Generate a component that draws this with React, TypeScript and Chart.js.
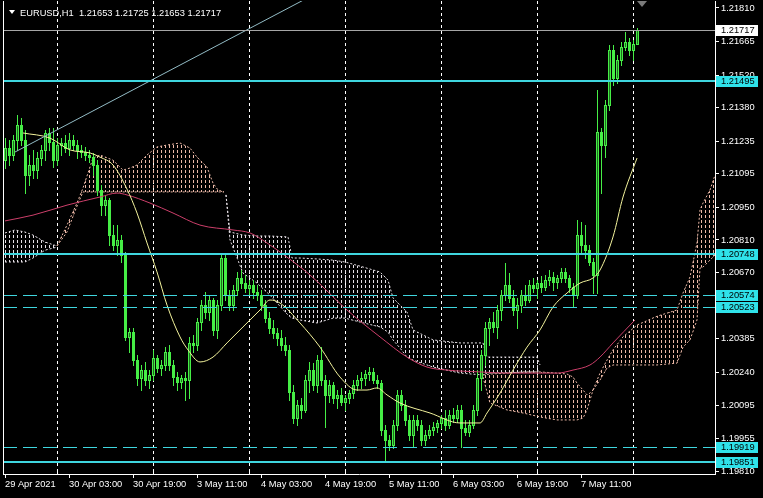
import React, { useEffect, useRef } from 'react';
import { Chart, registerables } from 'chart.js';

Chart.register(...registerables);

const symbolName = 'EURUSD,H1';

const opens = [
  1.21154,1.21206,1.21176,1.21241,1.21305,1.21241,1.21090,1.21133,1.21111,1.21163,
  1.21198,1.21271,1.21232,1.21154,1.21219,1.21228,1.21206,1.21241,1.21219,1.21198,
  1.21189,1.21176,1.21167,1.21133,1.21025,1.20960,1.20982,1.20831,1.20788,1.20810,
  1.20745,1.20392,1.20413,1.20292,1.20215,1.20249,1.20206,1.20228,1.20301,1.20258,
  1.20271,1.20327,1.20271,1.20219,1.20198,1.20215,1.20206,1.20366,1.20357,1.20456,
  1.20529,1.20499,1.20551,1.20422,1.20529,1.20732,1.20572,1.20529,1.20594,1.20646,
  1.20624,1.20603,1.20616,1.20585,1.20572,1.20529,1.20473,1.20430,1.20409,1.20388,
  1.20357,1.20336,1.20154,1.20042,1.20098,1.20077,1.20206,1.20249,1.20185,1.20292,
  1.20206,1.20142,1.20185,1.20129,1.20142,1.20111,1.20129,1.20150,1.20185,1.20206,
  1.20215,1.20232,1.20241,1.20206,1.20193,1.19991,1.19948,1.19926,1.20012,1.20142,
  1.20098,1.20034,1.19969,1.20034,1.20012,1.19948,1.19969,1.19991,1.20004,1.20021,
  1.20042,1.20012,1.20055,1.20042,1.20077,1.19999,1.19982,1.20012,1.20077,1.20215,
  1.20314,1.20430,1.20456,1.20435,1.20508,1.20572,1.20616,1.20560,1.20508,1.20529,
  1.20572,1.20551,1.20616,1.20603,1.20624,1.20607,1.20637,1.20650,1.20629,1.20646,
  1.20672,1.20646,1.20607,1.20572,1.20831,1.20788,1.20766,1.20715,1.20659,1.21275,
  1.21219,1.21391,1.21629,1.21508,1.21585,1.21642,1.21663,1.21629,1.21653,
];
const highs = [
  1.21250,1.21241,1.21262,1.21348,1.21335,1.21284,1.21176,1.21198,1.21189,1.21219,
  1.21284,1.21292,1.21292,1.21250,1.21250,1.21262,1.21271,1.21262,1.21241,1.21219,
  1.21211,1.21198,1.21185,1.21154,1.21047,1.21004,1.20991,1.20874,1.20874,1.20831,
  1.20758,1.20430,1.20430,1.20314,1.20271,1.20284,1.20249,1.20336,1.20314,1.20292,
  1.20348,1.20357,1.20292,1.20241,1.20228,1.20241,1.20392,1.20400,1.20473,1.20551,
  1.20585,1.20572,1.20560,1.20551,1.20754,1.20745,1.20594,1.20616,1.20672,1.20680,
  1.20659,1.20637,1.20637,1.20616,1.20594,1.20551,1.20499,1.20465,1.20430,1.20422,
  1.20392,1.20357,1.20185,1.20120,1.20129,1.20228,1.20284,1.20280,1.20314,1.20348,
  1.20228,1.20206,1.20198,1.20163,1.20172,1.20142,1.20163,1.20206,1.20228,1.20241,
  1.20249,1.20262,1.20258,1.20228,1.20206,1.20012,1.19969,1.20034,1.20163,1.20163,
  1.20120,1.20055,1.20055,1.20055,1.20034,1.19991,1.20012,1.20025,1.20034,1.20055,
  1.20077,1.20077,1.20086,1.20098,1.20098,1.20034,1.20034,1.20098,1.20249,1.20336,
  1.20456,1.20473,1.20499,1.20529,1.20594,1.20711,1.20668,1.20594,1.20560,1.20594,
  1.20616,1.20637,1.20646,1.20637,1.20654,1.20659,1.20680,1.20672,1.20659,1.20689,
  1.20689,1.20659,1.20624,1.20896,1.20887,1.20874,1.20788,1.20732,1.21456,1.21292,
  1.21413,1.21650,1.21650,1.21607,1.21663,1.21706,1.21680,1.21672,1.21725,
];
const lows = [
  1.21120,1.21133,1.21154,1.21198,1.21219,1.21012,1.21047,1.21077,1.21077,1.21133,
  1.21154,1.21198,1.21124,1.21133,1.21176,1.21189,1.21176,1.21198,1.21163,1.21167,
  1.21154,1.21146,1.21090,1.21004,1.20917,1.20917,1.20788,1.20766,1.20745,1.20715,
  1.20379,1.20327,1.20271,1.20185,1.20163,1.20185,1.20172,1.20206,1.20241,1.20228,
  1.20249,1.20249,1.20185,1.20163,1.20172,1.20120,1.20129,1.20327,1.20336,1.20422,
  1.20473,1.20465,1.20400,1.20388,1.20508,1.20551,1.20508,1.20508,1.20572,1.20603,
  1.20585,1.20572,1.20560,1.20551,1.20508,1.20456,1.20409,1.20388,1.20357,1.20336,
  1.20314,1.20120,1.20021,1.20012,1.20042,1.20068,1.20154,1.20163,1.20154,1.20185,
  1.20004,1.20111,1.20107,1.20086,1.20098,1.20077,1.20107,1.20129,1.20163,1.20172,
  1.20185,1.20206,1.20193,1.20172,1.19969,1.19853,1.19905,1.19913,1.19991,1.20077,
  1.20012,1.19948,1.19917,1.19991,1.19926,1.19926,1.19956,1.19969,1.19982,1.19999,
  1.19991,1.19999,1.20025,1.20025,1.19917,1.19969,1.19965,1.19999,1.20055,1.20163,
  1.20271,1.20357,1.20413,1.20388,1.20465,1.20551,1.20542,1.20486,1.20430,1.20499,
  1.20529,1.20542,1.20585,1.20560,1.20585,1.20594,1.20616,1.20594,1.20603,1.20629,
  1.20629,1.20585,1.20521,1.20560,1.20758,1.20732,1.20702,1.20581,1.20581,1.21012,
  1.21167,1.21370,1.21478,1.21486,1.21564,1.21629,1.21607,1.21585,1.21653,
];
const closes = [
  1.21206,1.21176,1.21241,1.21305,1.21241,1.21090,1.21133,1.21111,1.21163,1.21198,
  1.21271,1.21232,1.21154,1.21219,1.21228,1.21206,1.21241,1.21219,1.21198,1.21189,
  1.21176,1.21167,1.21133,1.21025,1.20960,1.20982,1.20831,1.20788,1.20810,1.20745,
  1.20392,1.20413,1.20292,1.20215,1.20249,1.20206,1.20228,1.20301,1.20258,1.20271,
  1.20327,1.20271,1.20219,1.20198,1.20215,1.20206,1.20366,1.20357,1.20456,1.20529,
  1.20499,1.20551,1.20422,1.20529,1.20732,1.20572,1.20529,1.20594,1.20646,1.20624,
  1.20603,1.20616,1.20585,1.20572,1.20529,1.20473,1.20430,1.20409,1.20388,1.20357,
  1.20336,1.20154,1.20042,1.20098,1.20077,1.20206,1.20249,1.20185,1.20292,1.20206,
  1.20142,1.20185,1.20129,1.20142,1.20111,1.20129,1.20150,1.20185,1.20206,1.20215,
  1.20232,1.20241,1.20206,1.20193,1.19991,1.19948,1.19926,1.20012,1.20142,1.20098,
  1.20034,1.19969,1.20034,1.20012,1.19948,1.19969,1.19991,1.20004,1.20021,1.20042,
  1.20012,1.20055,1.20042,1.20077,1.19999,1.19982,1.20012,1.20077,1.20215,1.20314,
  1.20430,1.20456,1.20435,1.20508,1.20572,1.20616,1.20560,1.20508,1.20529,1.20572,
  1.20551,1.20616,1.20603,1.20624,1.20607,1.20637,1.20650,1.20629,1.20646,1.20672,
  1.20646,1.20607,1.20572,1.20831,1.20788,1.20766,1.20715,1.20659,1.21275,1.21219,
  1.21391,1.21629,1.21508,1.21585,1.21642,1.21663,1.21629,1.21653,1.21717,
];

const xTickIndex = [0, 16, 32, 48, 64, 80, 96, 112, 128, 144];
const xTickLabels = ['29 Apr 2021', '30 Apr 03:00', '30 Apr 19:00', '3 May 11:00', '4 May 03:00', '4 May 19:00', '5 May 11:00', '6 May 03:00', '6 May 19:00', '7 May 11:00'];
const gridIndex = [13, 37, 61, 85, 109, 133, 157];
const yTicks = [1.2181, 1.21665, 1.2152, 1.2138, 1.21235, 1.21095, 1.2095, 1.2081, 1.2067, 1.20525, 1.20385, 1.2024, 1.20095, 1.19955, 1.1981];
const solidLevels = [1.21495, 1.20748, 1.19851];
const dashedLevels = [1.20574, 1.20523, 1.19919];

const trendX = [2.5, 80];
const trendY = [1.21189, 1.21893];

const maFastX = [4.5, 11.25, 16.25, 21.25, 23.75, 27, 30.5, 33, 35.5, 38, 40.5, 43.75, 45.75, 48.75, 52, 55.5, 59.5, 63.75, 66.25, 68.75, 73.75, 78.75, 83.75, 88, 90.5, 93, 95.5, 98.75, 106.25, 113.75, 118.75, 120.5, 123.75, 127, 130.5, 133.75, 137, 140.5, 143.75, 147, 148.75, 152, 154.5, 158];
const maFastY = [1.21271, 1.21249, 1.21198, 1.21185, 1.21167, 1.21133, 1.21029, 1.20926, 1.20797, 1.20672, 1.20529, 1.20392, 1.20336, 1.20284, 1.20305, 1.20366, 1.20435, 1.20508, 1.20551, 1.20538, 1.20452, 1.20348, 1.20219, 1.20163, 1.20163, 1.20172, 1.20142, 1.20107, 1.20064, 1.20021, 1.20021, 1.20064, 1.20150, 1.20249, 1.20348, 1.20422, 1.20521, 1.20581, 1.20624, 1.20646, 1.20680, 1.20823, 1.20995, 1.21163];

const maSlowX = [0, 7, 15.5, 23.75, 28, 30.5, 36.25, 42, 48.75, 57, 61.25, 65.5, 70.5, 76.25, 85.5, 93.75, 100.5, 105.5, 110.5, 118.75, 125.5, 138, 142, 146.25, 148.75, 152, 157.5];
const maSlowY = [1.20892, 1.20917, 1.20960, 1.20995, 1.21012, 1.21004, 1.20969, 1.20926, 1.20874, 1.20853, 1.20840, 1.20797, 1.20736, 1.20659, 1.20508, 1.20392, 1.20305, 1.20262, 1.20249, 1.20241, 1.20236, 1.20236, 1.20249, 1.20271, 1.20305, 1.20366, 1.20465];

// Ichimoku cloud pieces (index, span top, span bottom)
const kumo1X = [0, 2.5, 5, 7, 10, 13];
const kumo1Top = [1.20840, 1.20853, 1.20844, 1.20831, 1.20801, 1.20784];
const kumo1Bot = [1.20715, 1.20715, 1.20715, 1.20732, 1.20766, 1.20779];

const kumo2X = [13, 15.5, 18, 19.5, 22, 23.75, 27, 29.5, 31.25, 33, 35.5, 38, 40.5, 43.75, 46.25, 48, 50.5, 52, 53.25, 54.75];
const kumo2Top = [1.20784, 1.20874, 1.20969, 1.21034, 1.21163, 1.21176, 1.21154, 1.21111, 1.21120, 1.21133, 1.21176, 1.21211, 1.21219, 1.21228, 1.21206, 1.21167, 1.21124, 1.21055, 1.21025, 1.21017];
const kumo2Bot = [1.20784, 1.20844, 1.20956, 1.21017, 1.21017, 1.21017, 1.21017, 1.21017, 1.21017, 1.21017, 1.21017, 1.21017, 1.21017, 1.21017, 1.21017, 1.21017, 1.21017, 1.21017, 1.21017, 1.21017];

const kumo3X = [55.25, 56.25, 59.5, 63, 66.25, 70.75, 71.75, 73.75, 78, 82, 85, 88.75, 93.75, 95.75, 97, 98.75, 100.5, 102, 107, 113.75, 119.5, 120.5, 133, 133.75];
const kumo3Top = [1.21004, 1.20844, 1.20831, 1.20827, 1.20827, 1.20823, 1.20732, 1.20732, 1.20728, 1.20723, 1.20715, 1.20697, 1.20672, 1.20637, 1.20560, 1.20529, 1.20499, 1.20422, 1.20379, 1.20366, 1.20366, 1.20305, 1.20305, 1.20271];
const kumo3Bot = [1.21004, 1.20810, 1.20667, 1.20624, 1.20572, 1.20486, 1.20473, 1.20465, 1.20452, 1.20473, 1.20473, 1.20456, 1.20435, 1.20413, 1.20379, 1.20344, 1.20305, 1.20292, 1.20262, 1.20236, 1.20228, 1.20236, 1.20241, 1.20249];

const kumo4X = [119.5, 121.25, 125.5, 129.5, 133.75, 138, 140.5, 142, 143, 144.5, 145.5, 146.25, 147];
const kumo4Top = [1.20228, 1.20232, 1.20236, 1.20241, 1.20241, 1.20236, 1.20232, 1.20219, 1.20193, 1.20163, 1.20142, 1.20150, 1.20163];
const kumo4Bot = [1.20219, 1.20107, 1.20077, 1.20064, 1.20047, 1.20034, 1.20034, 1.20034, 1.20034, 1.20042, 1.20077, 1.20120, 1.20163];

const kumo5X = [147, 148.75, 150.5, 152, 154.5, 158, 163, 168, 169.5, 171.25, 173, 173.75, 174.5, 176.25, 177.5];
const kumo5Top = [1.20163, 1.20236, 1.20292, 1.20336, 1.20392, 1.20443, 1.20481, 1.20508, 1.20581, 1.20650, 1.20797, 1.20939, 1.20969, 1.21025, 1.21090];
const kumo5Bot = [1.20163, 1.20206, 1.20258, 1.20271, 1.20271, 1.20271, 1.20271, 1.20279, 1.20348, 1.20379, 1.20465, 1.20689, 1.20693, 1.20723, 1.20745];

const Y_MIN = 1.19801;
const Y_MAX = 1.2184;
const X_MIN = -0.5;
const X_MAX = 177.5;

const FONT_FAMILY = '"Liberation Sans", Arial, sans-serif';
const FONT_SIZE = 9.3;
const GREEN = '#46ee46';
const BULL_INNER = '#1f6f1f';
const CYAN_LINE = '#3fd6df';
const CYAN_BOX = '#2fe2ea';
const SALMON = '#ecb9a7';
const THISTLE = '#e6e0e6';

const pts = (xs: number[], ys: number[]) => xs.map((x, i) => ({ x, y: ys[i] }));

export default function App() {
  const ref = useRef<HTMLCanvasElement>(null);

  useEffect(() => {
    const canvas = ref.current;
    if (!canvas) return;

    const makePattern = (color: string) => {
      const c = document.createElement('canvas');
      c.width = 4;
      c.height = 5;
      const g = c.getContext('2d')!;
      g.fillStyle = color;
      g.fillRect(1, 0, 1, 3);
      return g.createPattern(c, 'repeat')!;
    };
    const salmonPat = makePattern(SALMON);
    const thistlePat = makePattern(THISTLE);

    const cloud = (xs: number[], tops: number[], bots: number[], color: string, pat: CanvasPattern) => [
      {
        data: pts(xs, tops), borderColor: color, borderWidth: 1, borderDash: [2, 2],
        pointRadius: 0, fill: '+1', backgroundColor: pat, tension: 0,
      },
      {
        data: pts(xs, bots), borderColor: color, borderWidth: 1, borderDash: [2, 2],
        pointRadius: 0, fill: false, tension: 0,
      },
    ];

    const datasets: any[] = [
      { data: pts(trendX, trendY), borderColor: '#93bcc6', borderWidth: 1, pointRadius: 0, fill: false, tension: 0 },
      { data: pts(maFastX, maFastY), borderColor: '#f3f39c', borderWidth: 1, pointRadius: 0, fill: false, cubicInterpolationMode: 'monotone' },
      { data: pts(maSlowX, maSlowY), borderColor: '#cc3f6a', borderWidth: 1, pointRadius: 0, fill: false, cubicInterpolationMode: 'monotone' },
      ...cloud(kumo1X, kumo1Top, kumo1Bot, THISTLE, thistlePat),
      ...cloud(kumo2X, kumo2Top, kumo2Bot, SALMON, salmonPat),
      ...cloud(kumo3X, kumo3Top, kumo3Bot, THISTLE, thistlePat),
      ...cloud(kumo4X, kumo4Top, kumo4Bot, SALMON, salmonPat),
      ...cloud(kumo5X, kumo5Top, kumo5Bot, SALMON, salmonPat),
    ];

    const font = `${FONT_SIZE}px ${FONT_FAMILY}`;

    const bgPlugin = {
      id: 'bg',
      beforeDraw(chart: any) {
        const { ctx, width, height } = chart;
        ctx.save();
        ctx.fillStyle = '#000000';
        ctx.fillRect(0, 0, width, height);
        ctx.restore();
      },
    };

    const gridPlugin = {
      id: 'mtgrid',
      beforeDatasetsDraw(chart: any) {
        const { ctx, chartArea, scales } = chart;
        ctx.save();
        ctx.strokeStyle = '#ffffff';
        ctx.lineWidth = 1;
        ctx.setLineDash([3, 3]);
        gridIndex.forEach((g) => {
          const x = Math.round(scales.x.getPixelForValue(g)) + 0.5;
          ctx.beginPath();
          ctx.moveTo(x, chartArea.top);
          ctx.lineTo(x, chartArea.bottom);
          ctx.stroke();
        });
        ctx.setLineDash([]);
        gridIndex.forEach((g) => {
          const x = Math.round(scales.x.getPixelForValue(g)) + 0.5;
          ctx.beginPath();
          ctx.moveTo(x, chartArea.bottom);
          ctx.lineTo(x, chartArea.bottom - 3);
          ctx.stroke();
        });
        ctx.restore();
      },
    };

    const candlePlugin = {
      id: 'candles',
      beforeDatasetDraw(chart: any, args: any) {
        if (args.index !== 2) return;
        const { ctx, chartArea, scales } = chart;
        const xs = scales.x;
        const ys = scales.y;
        ctx.save();
        ctx.beginPath();
        ctx.rect(chartArea.left, chartArea.top, chartArea.right - chartArea.left, chartArea.bottom - chartArea.top);
        ctx.clip();
        for (let i = 0; i < opens.length; i++) {
          const x = Math.round(xs.getPixelForValue(i));
          const yH = Math.round(ys.getPixelForValue(highs[i]));
          const yL = Math.round(ys.getPixelForValue(lows[i]));
          const yO = ys.getPixelForValue(opens[i]);
          const yC = ys.getPixelForValue(closes[i]);
          ctx.fillStyle = GREEN;
          ctx.fillRect(x, yH, 1, Math.max(1, yL - yH + 1));
          const top = Math.round(Math.min(yO, yC));
          const bot = Math.round(Math.max(yO, yC));
          const h = Math.max(1, bot - top + 1);
          ctx.fillRect(x - 1, top, 3, h);
          if (closes[i] > opens[i] && h > 2) {
            ctx.fillStyle = BULL_INNER;
            ctx.fillRect(x, top + 1, 1, h - 2);
          }
        }
        ctx.restore();
      },
    };

    const levelsPlugin = {
      id: 'levels',
      afterDatasetsDraw(chart: any) {
        const { ctx, chartArea, scales } = chart;
        ctx.save();
        ctx.strokeStyle = CYAN_LINE;
        solidLevels.forEach((v) => {
          const y = Math.round(scales.y.getPixelForValue(v));
          ctx.lineWidth = 2;
          ctx.beginPath();
          ctx.moveTo(chartArea.left, y);
          ctx.lineTo(chartArea.right, y);
          ctx.stroke();
        });
        ctx.lineWidth = 1;
        ctx.setLineDash([14, 6]);
        dashedLevels.forEach((v) => {
          const y = Math.round(scales.y.getPixelForValue(v)) + 0.5;
          ctx.beginPath();
          ctx.moveTo(chartArea.left, y);
          ctx.lineTo(chartArea.right, y);
          ctx.stroke();
        });
        ctx.setLineDash([]);
        const bid = closes[closes.length - 1];
        const yb = Math.round(scales.y.getPixelForValue(bid)) + 0.5;
        ctx.strokeStyle = '#a6a6a6';
        ctx.beginPath();
        ctx.moveTo(chartArea.left, yb);
        ctx.lineTo(chartArea.right, yb);
        ctx.stroke();
        ctx.restore();
      },
    };

    const overlayPlugin = {
      id: 'overlay',
      afterDraw(chart: any) {
        const { ctx, chartArea, scales } = chart;
        const last = closes.length - 1;
        ctx.save();
        // frame left edge
        ctx.strokeStyle = '#ffffff';
        ctx.lineWidth = 1;
        ctx.beginPath();
        ctx.moveTo(chartArea.left + 0.5, chartArea.top);
        ctx.lineTo(chartArea.left + 0.5, chartArea.bottom);
        ctx.stroke();

        // price boxes on the axis
        const boxes = [
          { v: closes[last], bg: '#ffffff' },
          ...solidLevels.map((v) => ({ v, bg: CYAN_BOX })),
          ...dashedLevels.map((v) => ({ v, bg: CYAN_BOX })),
        ];
        ctx.font = font;
        ctx.textBaseline = 'middle';
        ctx.textAlign = 'left';
        boxes.forEach((b) => {
          const y = Math.round(scales.y.getPixelForValue(b.v));
          ctx.fillStyle = b.bg;
          ctx.fillRect(chartArea.right + 1, y - 5, 42, 11);
          ctx.fillStyle = '#000000';
          ctx.fillText(b.v.toFixed(5), chartArea.right + 6, y + 0.5);
        });

        // title
        ctx.fillStyle = '#ffffff';
        ctx.beginPath();
        ctx.moveTo(9, 10);
        ctx.lineTo(15, 10);
        ctx.lineTo(12, 14);
        ctx.closePath();
        ctx.fill();
        const title = `${symbolName}  ${opens[last].toFixed(5)} ${highs[last].toFixed(5)} ${lows[last].toFixed(5)} ${closes[last].toFixed(5)}`;
        ctx.fillText(title, 20, 13);

        // chart shift marker
        ctx.fillStyle = '#7a7a7a';
        ctx.beginPath();
        ctx.moveTo(637, 1);
        ctx.lineTo(647, 1);
        ctx.lineTo(642, 7);
        ctx.closePath();
        ctx.fill();
        ctx.restore();
      },
    };

    const chart = new Chart(canvas, {
      type: 'line',
      data: { datasets },
      options: {
        responsive: false,
        animation: false,
        devicePixelRatio: 1,
        events: [],
        layout: { padding: { left: 3, top: 1, right: 0, bottom: 0 } },
        plugins: {
          legend: { display: false },
          tooltip: { enabled: false },
          title: { display: false },
        },
        scales: {
          x: {
            type: 'linear',
            min: X_MIN,
            max: X_MAX,
            position: 'bottom',
            afterBuildTicks: (s: any) => {
              s.ticks = xTickIndex.map((v) => ({ value: v }));
            },
            afterFit: (s: any) => {
              s.height = 24;
              s.paddingLeft = 0;
              s.paddingRight = 0;
            },
            ticks: {
              autoSkip: false,
              maxRotation: 0,
              minRotation: 0,
              align: 'start',
              padding: 1,
              color: '#ffffff',
              font: { family: FONT_FAMILY, size: FONT_SIZE },
              callback: (_v: any, i: number) => xTickLabels[i],
            },
            grid: { drawOnChartArea: false, drawTicks: true, tickLength: 4, color: '#ffffff' },
            border: { display: true, color: '#ffffff' },
          },
          y: {
            type: 'linear',
            position: 'right',
            min: Y_MIN,
            max: Y_MAX,
            afterBuildTicks: (s: any) => {
              s.ticks = yTicks.map((v) => ({ value: v }));
            },
            afterFit: (s: any) => {
              s.width = 48;
              s.paddingTop = 0;
              s.paddingBottom = 0;
            },
            ticks: {
              autoSkip: false,
              padding: 2,
              color: '#ffffff',
              font: { family: FONT_FAMILY, size: FONT_SIZE },
              callback: (v: any) => Number(v).toFixed(5),
            },
            grid: { drawOnChartArea: false, drawTicks: true, tickLength: 4, color: '#ffffff' },
            border: { display: true, color: '#ffffff' },
          },
        },
      } as any,
      plugins: [bgPlugin, gridPlugin, candlePlugin, levelsPlugin, overlayPlugin],
    });

    return () => chart.destroy();
  }, []);

  return (
    <div style={{ position: 'fixed', left: 0, top: 0, width: 763, height: 498, background: '#000' }}>
      <canvas ref={ref} width={763} height={498} style={{ display: 'block', width: 763, height: 498 }} />
    </div>
  );
}
